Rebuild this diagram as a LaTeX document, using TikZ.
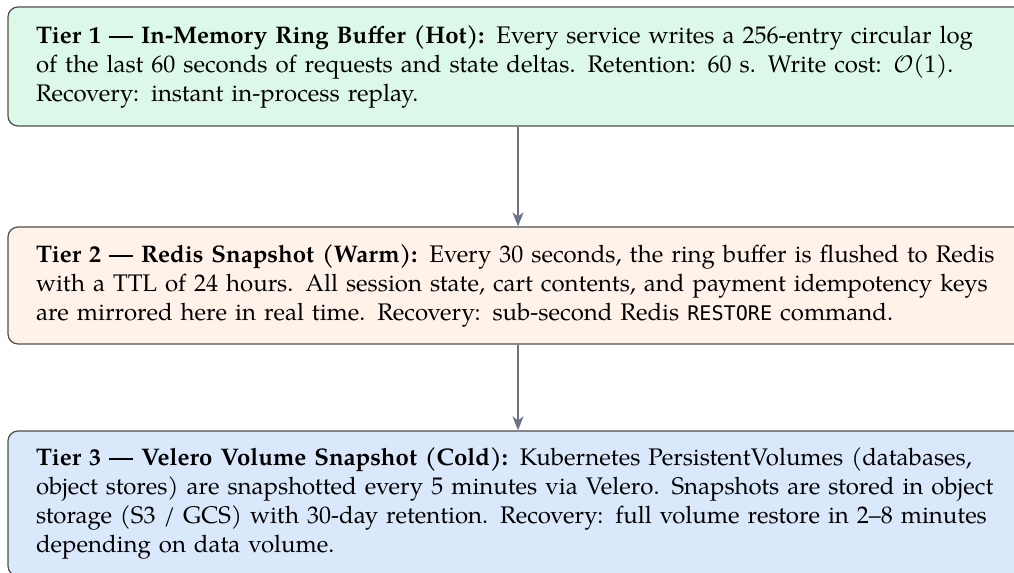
\documentclass[tikz,border=0pt]{standalone}
\usepackage{fontspec}
\setmainfont{TeX Gyre Pagella}
\setmonofont{DejaVu Sans Mono}[Scale=0.84]
\usetikzlibrary{arrows.meta}

\definecolor{hotfill}{HTML}{DCF8E8}
\definecolor{warmfill}{HTML}{FFF3E9}
\definecolor{coldfill}{HTML}{DAE8FC}
\definecolor{tierline}{HTML}{4E4E4E}
\definecolor{flowline}{HTML}{6B7385}

% body text of a tier box: ragged right, no hyphenation, lines broken by hand
\newcommand{\tierfont}{%
  \fontsize{12pt}{14.5pt}\selectfont
  \hyphenpenalty=10000 \exhyphenpenalty=10000
  \hbadness=10000 \hfuzz=20pt\relax}

\tikzset{
  tierbox/.style={
    draw=tierline, line width=0.6pt, rounded corners=5pt,
    text width=482pt, inner xsep=14pt, inner ysep=0pt,
    align=left, anchor=center, font=\tierfont
  },
  flow/.style={
    draw=flowline, line width=0.8pt,
    -{Stealth[length=7pt,width=5.5pt,inset=2pt]}
  }
}

\begin{document}
\begin{tikzpicture}[x=0.5pt, y=-0.5pt]
  \useasboundingbox (0,0) rectangle (1014,573);
  \clip (0,0) rectangle (1014,573);

  \node[tierbox, fill=hotfill, minimum height=59.5pt] (hot) at (518,66.5)
    {\textbf{Tier 1 --- In-Memory Ring Buffer (Hot):} Every service writes a 256-entry circular log\\
     of the last 60 seconds of requests and state deltas. Retention: 60 s. Write cost: $\mathcal{O}$(1).\\
     Recovery: instant in-process replay.};

  \node[tierbox, fill=warmfill, minimum height=58.5pt] (warm) at (518,285.5)
    {\textbf{Tier 2 --- Redis Snapshot (Warm):} Every 30 seconds, the ring buffer is flushed to Redis\\
     with a TTL of 24 hours. All session state, cart contents, and payment idempotency keys\\
     are mirrored here in real time. Recovery: sub-second Redis \texttt{RESTORE} command.};

  \node[tierbox, fill=coldfill, minimum height=72.5pt] (cold) at (518,503.5)
    {\textbf{Tier 3 --- Velero Volume Snapshot (Cold):} Kubernetes PersistentVolumes (databases,\\
     object stores) are snapshotted every 5 minutes via Velero. Snapshots are stored in object\\
     storage (S3 / GCS) with 30-day retention. Recovery: full volume restore in 2--8 minutes\\
     depending on data volume.};

  \draw[flow] (hot) -- (warm);
  \draw[flow] (warm) -- (cold);
\end{tikzpicture}
\end{document}
